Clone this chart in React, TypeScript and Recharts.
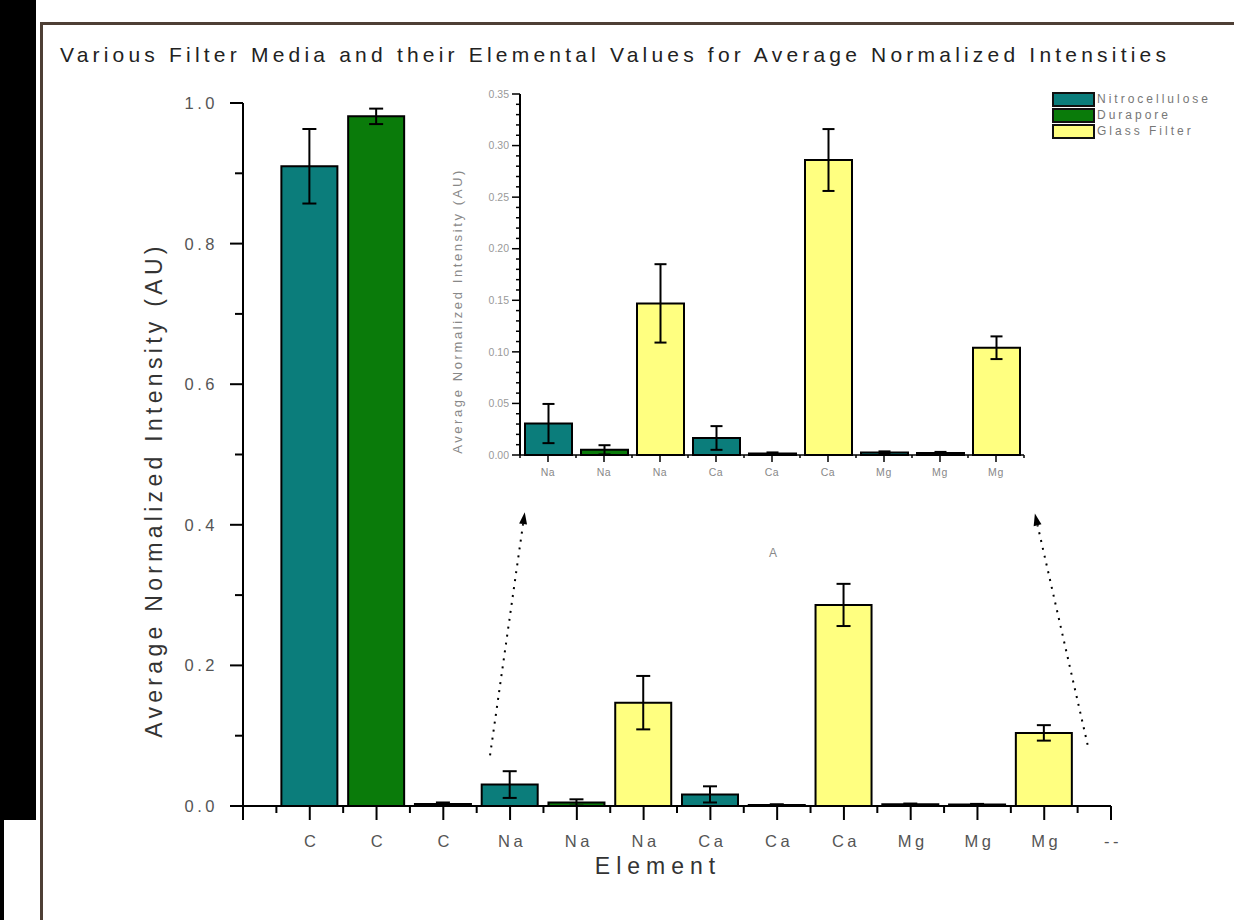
import React from 'react';
import { BarChart, Bar, XAxis, YAxis, ErrorBar, Cell, ReferenceLine, Legend } from 'recharts';

const FILTERS = ['Nitrocellulose', 'Durapore', 'Glass Filter'];
const COLORS = ['#0b7d7b', '#0a7b0a', '#ffff80'];

// main chart: one bar per slot, slot 0 and 13 stay empty
const SLOT_LABELS = ['', 'C', 'C', 'C', 'Na', 'Na', 'Na', 'Ca', 'Ca', 'Ca', 'Mg', 'Mg', 'Mg', '--'];
const SLOTS = [1, 2, 3, 4, 5, 6, 7, 8, 9, 10, 11, 12];
const SLOT_FILTER = [0, 1, 2, 0, 1, 2, 0, 1, 2, 0, 1, 2];
const VALUES = [0.91, 0.981, 0.003, 0.0305, 0.005, 0.147, 0.0165, 0.0015, 0.286, 0.0025, 0.002, 0.104];
const ERRORS = [0.053, 0.011, 0.002, 0.019, 0.0045, 0.038, 0.0115, 0.001, 0.03, 0.001, 0.001, 0.011];

const MAIN_X_TICKS = [0, 0.5, 1, 1.5, 2, 2.5, 3, 3.5, 4, 4.5, 5, 5.5, 6, 6.5, 7, 7.5, 8, 8.5, 9, 9.5, 10, 10.5, 11, 11.5, 12, 12.5, 13];
const MAIN_Y_TICKS = [0, 0.1, 0.2, 0.3, 0.4, 0.5, 0.6, 0.7, 0.8, 0.9, 1.0];

// inset: zoom on the Na / Ca / Mg bars
const INSET_FROM = 3;
const INSET_Y_TICKS = [
  0, 0.01, 0.02, 0.03, 0.04, 0.05, 0.06, 0.07, 0.08, 0.09, 0.1, 0.11, 0.12, 0.13, 0.14, 0.15, 0.16, 0.17,
  0.18, 0.19, 0.2, 0.21, 0.22, 0.23, 0.24, 0.25, 0.26, 0.27, 0.28, 0.29, 0.3, 0.31, 0.32, 0.33, 0.34, 0.35,
];

// dotted arrows, in main-chart data units
const ARROW_LEFT = [{ x: 3.7, y: 0.072 }, { x: 4.22, y: 0.418 }];
const ARROW_RIGHT = [{ x: 12.65, y: 0.087 }, { x: 11.86, y: 0.416 }];

const mainData = SLOTS.map((x, i) => ({ x, value: VALUES[i], err: ERRORS[i], f: SLOT_FILTER[i] }));
const insetData = mainData.slice(INSET_FROM).map((d, i) => ({ ...d, i, label: SLOT_LABELS[d.x] }));

const FONT = '"Liberation Sans", Arial, sans-serif';
const INSET_BAND = 504 / insetData.length;

const MainXTick = (props: any) => {
  const { x, y, payload } = props;
  const v = payload.value;
  const major = Number.isInteger(v);
  return (
    <g>
      <line x1={x} y1={y} x2={x} y2={y + (major ? 14 : 7)} stroke="#000" strokeWidth={2} />
      {major && (
        <text x={x + 2} y={y + 41} textAnchor="middle" fontSize={16.5} letterSpacing={3.5} fill="#555" fontFamily={FONT}>
          {SLOT_LABELS[v]}
        </text>
      )}
    </g>
  );
};

const MainYTick = (props: any) => {
  const { x, y, payload } = props;
  const v = payload.value;
  const major = Math.round(v * 10) % 2 === 0;
  return (
    <g>
      <line x1={x} y1={y} x2={x - (major ? 13 : 8)} y2={y} stroke="#000" strokeWidth={2} />
      {major && (
        <text x={x - 25} y={y} dy="0.36em" textAnchor="end" fontSize={16.5} letterSpacing={3.5} fill="#555" fontFamily={FONT}>
          {v.toFixed(1)}
        </text>
      )}
    </g>
  );
};

const InsetXTick = (props: any) => {
  const { x, y, payload } = props;
  const i = payload.value;
  const last = i === insetData.length - 1;
  return (
    <g>
      <line x1={x} y1={y} x2={x} y2={y + 7} stroke="#000" strokeWidth={1.5} />
      <line x1={x - INSET_BAND / 2} y1={y} x2={x - INSET_BAND / 2} y2={y + 3} stroke="#000" strokeWidth={1.5} />
      {last && <line x1={x + INSET_BAND / 2} y1={y} x2={x + INSET_BAND / 2} y2={y + 3} stroke="#000" strokeWidth={1.5} />}
      <text x={x} y={y + 21} textAnchor="middle" fontSize={10.5} letterSpacing={0.6} fill="#888" fontFamily={FONT}>
        {insetData[i].label}
      </text>
    </g>
  );
};

const InsetYTick = (props: any) => {
  const { x, y, payload } = props;
  const v = payload.value;
  const major = Math.round(v * 100) % 5 === 0;
  return (
    <g>
      <line x1={x} y1={y} x2={x - (major ? 8 : 4)} y2={y} stroke="#000" strokeWidth={1.5} />
      {major && (
        <text x={x - 11} y={y} dy="0.35em" textAnchor="end" fontSize={10.5} fill="#999" fontFamily={FONT}>
          {v.toFixed(2)}
        </text>
      )}
    </g>
  );
};

const DottedArrow = (props: any) => {
  const { x1, y1, x2, y2 } = props;
  const a = Math.atan2(y2 - y1, x2 - x1);
  const c = Math.cos(a);
  const s = Math.sin(a);
  const bx = x2 - 12 * c;
  const by = y2 - 12 * s;
  return (
    <g>
      <line x1={x1} y1={y1} x2={bx} y2={by} stroke="#000" strokeWidth={2} strokeDasharray="2 6" />
      <polygon points={`${x2},${y2} ${bx + 4 * s},${by - 4 * c} ${bx - 4 * s},${by + 4 * c}`} fill="#000" />
    </g>
  );
};

const InsetLegend = () => (
  <div style={{ fontFamily: FONT, fontSize: 12, letterSpacing: 3, color: '#777' }}>
    {FILTERS.map((name, i) => (
      <div key={name} style={{ display: 'flex', alignItems: 'center', height: 16 }}>
        <div style={{ width: 39, height: 11, background: COLORS[i], border: '2px solid #111', marginRight: 2 }} />
        <span>{name}</span>
      </div>
    ))}
  </div>
);

export default function App() {
  return (
    <div style={{ position: 'absolute', left: 0, top: 0, width: 1234, height: 920, background: '#fff', overflow: 'hidden' }}>
      <div style={{ position: 'absolute', left: 0, top: 0, width: 36, height: 820, background: '#000' }} />
      <div style={{ position: 'absolute', left: 0, top: 820, width: 4, height: 100, background: '#000' }} />
      <div style={{ position: 'absolute', left: 40, top: 22, width: 1194, height: 3, background: '#4e3f35' }} />
      <div style={{ position: 'absolute', left: 40, top: 22, width: 3, height: 898, background: '#4e3f35' }} />

      <svg width={1234} height={920} style={{ position: 'absolute', left: 0, top: 0 }}>
        <text x={60} y={62} fontSize={21} letterSpacing={4.2} fill="#222" fontFamily={FONT}>
          Various Filter Media and their Elemental Values for Average Normalized Intensities
        </text>
        <text x={162} y={490} transform="rotate(-90 162 490)" textAnchor="middle" fontSize={23} letterSpacing={4.3} fill="#333" fontFamily={FONT}>
          Average Normalized Intensity (AU)
        </text>
        <text x={658} y={874} textAnchor="middle" fontSize={23} letterSpacing={6} fill="#333" fontFamily={FONT}>
          Element
        </text>
        <text x={462} y={311} transform="rotate(-90 462 311)" textAnchor="middle" fontSize={13} letterSpacing={2.6} fill="#888" fontFamily={FONT}>
          Average Normalized Intensity (AU)
        </text>
        <text x={773} y={557} textAnchor="middle" fontSize={12} fill="#888" fontFamily={FONT}>
          A
        </text>
      </svg>

      <div style={{ position: 'absolute', left: 0, top: 0 }}>
        <BarChart width={1234} height={920} data={mainData} margin={{ top: 103, left: 183, right: 123, bottom: 84 }}>
          <XAxis
            dataKey="x"
            type="number"
            domain={[0, 13]}
            ticks={MAIN_X_TICKS}
            interval={0}
            height={30}
            tickSize={0}
            tickMargin={0}
            tickLine={false}
            tick={<MainXTick />}
            axisLine={{ stroke: '#000', strokeWidth: 2 }}
          />
          <YAxis
            type="number"
            domain={[0, 1]}
            ticks={MAIN_Y_TICKS}
            interval={0}
            width={60}
            tickSize={0}
            tickMargin={0}
            tickLine={false}
            tick={<MainYTick />}
            axisLine={{ stroke: '#000', strokeWidth: 2 }}
          />
          <Bar dataKey="value" barSize={56} stroke="#000" strokeWidth={2} isAnimationActive={false}>
            {mainData.map((d) => (
              <Cell key={d.x} fill={COLORS[d.f]} />
            ))}
            <ErrorBar dataKey="err" width={7} stroke="#000" strokeWidth={2} />
          </Bar>
          <ReferenceLine segment={ARROW_LEFT} shape={<DottedArrow />} ifOverflow="visible" />
          <ReferenceLine segment={ARROW_RIGHT} shape={<DottedArrow />} ifOverflow="visible" />
        </BarChart>
      </div>

      <div style={{ position: 'absolute', left: 0, top: 0 }}>
        <BarChart width={1234} height={920} data={insetData} margin={{ top: 94, left: 460, right: 210, bottom: 387 }}>
          <XAxis
            dataKey="i"
            type="category"
            interval={0}
            height={30}
            tickSize={0}
            tickMargin={0}
            tickLine={false}
            tick={<InsetXTick />}
            axisLine={{ stroke: '#000', strokeWidth: 1.5 }}
          />
          <YAxis
            type="number"
            domain={[0, 0.35]}
            ticks={INSET_Y_TICKS}
            interval={0}
            width={60}
            tickSize={0}
            tickMargin={0}
            tickLine={false}
            tick={<InsetYTick />}
            axisLine={{ stroke: '#000', strokeWidth: 2 }}
          />
          <Bar dataKey="value" barSize={47} stroke="#000" strokeWidth={2} isAnimationActive={false}>
            {insetData.map((d) => (
              <Cell key={d.x} fill={COLORS[d.f]} />
            ))}
            <ErrorBar dataKey="err" width={6} stroke="#000" strokeWidth={2} />
          </Bar>
          <Legend
            content={<InsetLegend />}
            wrapperStyle={{ position: 'absolute', left: 1052, top: 91, width: 180 }}
          />
        </BarChart>
      </div>
    </div>
  );
}
